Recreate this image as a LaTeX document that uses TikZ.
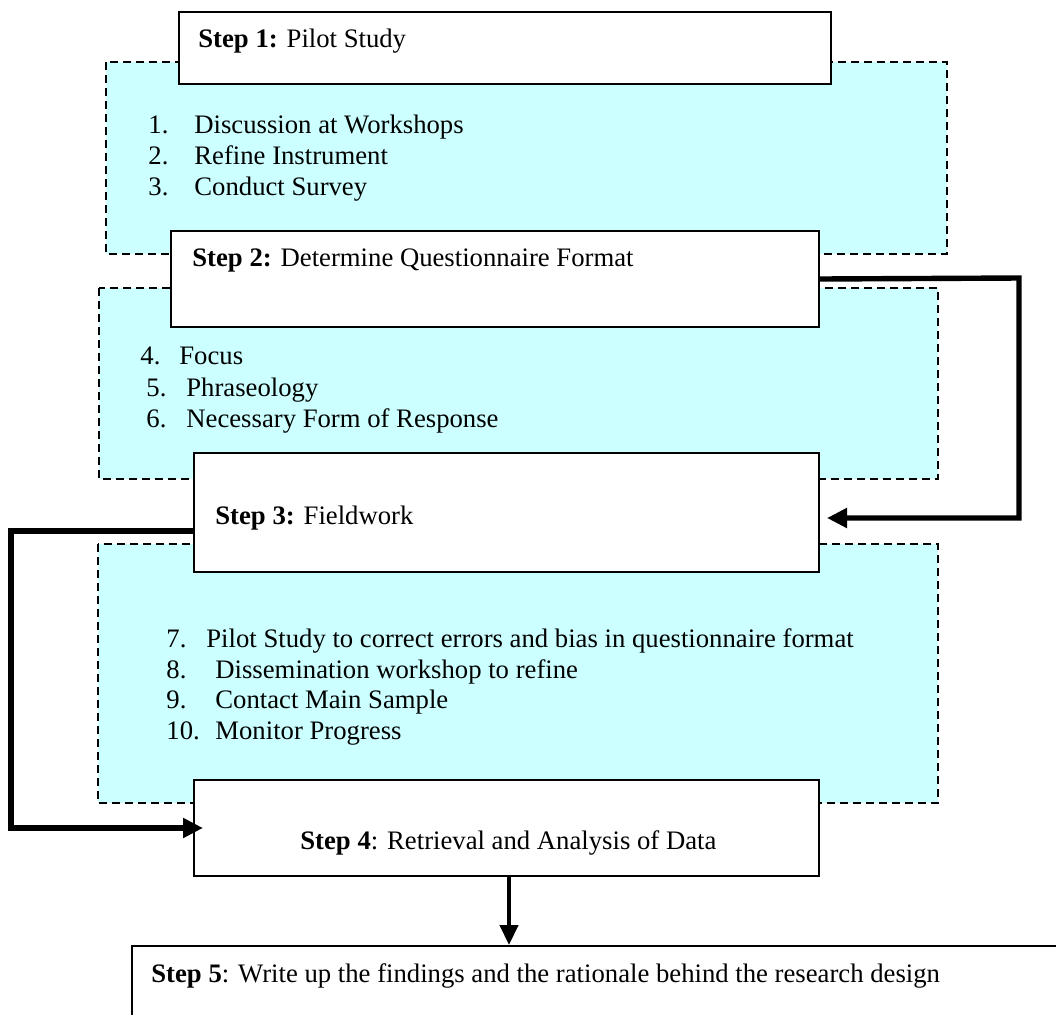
\documentclass[tikz,border=0pt]{standalone}
\usepackage{fontspec}
\setmainfont{Liberation Serif}
\usetikzlibrary{arrows.meta}
\definecolor{paleCyan}{HTML}{CCFFFF}
\begin{document}
\begin{tikzpicture}[x=0.5pt,y=-0.5pt,
  stepbox/.style={draw=black,line width=1pt,fill=white},
  dashbox/.style={draw=black,dashed,line width=0.8pt,fill=paleCyan,dash pattern=on 4pt off 2.5pt},
  txt/.style={anchor=base west,inner sep=0pt,font=\fontsize{13.35}{15.5}\selectfont},
  flow/.style={line width=2.7pt,-{Triangle[length=10pt,width=9.5pt]}}]
\useasboundingbox (0,0) rectangle (1056,1014);
\clip (0,0) rectangle (1056,1014);
% dashed areas
\path[dashbox] (106,62) rectangle (947,254);
\path[dashbox] (99,288) rectangle (938,479);
\path[dashbox] (98,544) rectangle (938,803);
% step boxes
\node[stepbox,anchor=north west,minimum width=326pt,minimum height=36pt] (s1) at (178,11) {};
\node[stepbox,anchor=north west,minimum width=324pt,minimum height=48pt] (s2) at (170,230) {};
\node[stepbox,anchor=north west,minimum width=312.5pt,minimum height=59.5pt] (s3) at (193,452) {};
\node[stepbox,anchor=north west,minimum width=312.5pt,minimum height=48pt] (s4) at (193,779) {};
\node[stepbox,anchor=north west,minimum width=480pt,minimum height=60pt] (s5) at (131,945) {};
% texts
\node[txt] (t1) at (198,47) {\textbf{Step 1:} Pilot Study};
\node[txt] (n1) at (148,133) {1.};
\node[txt] (i1) at (194,133) {Discussion at Workshops};
\node[txt] (n2) at (148,164) {2.};
\node[txt] (i2) at (194,164) {Refine Instrument};
\node[txt] (n3) at (148,195) {3.};
\node[txt] (i3) at (194,195) {Conduct Survey};
\node[txt] (t2) at (192,266) {\textbf{Step 2:} Determine Questionnaire Format};
\node[txt] (n4) at (140,364) {4.};
\node[txt] (i4) at (179,364) {Focus};
\node[txt] (n5) at (146,396) {5.};
\node[txt] (i5) at (186,396) {Phraseology};
\node[txt] (n6) at (146,427) {6.};
\node[txt] (i6) at (186,427) {Necessary Form of Response};
\node[txt] (t3) at (215,524) {\textbf{Step 3:} Fieldwork};
\node[txt] (n7) at (166,647) {7.};
\node[txt] (i7) at (206,647) {Pilot Study to correct errors and bias in questionnaire format};
\node[txt] (n8) at (166,678) {8.};
\node[txt] (i8) at (215,678) {Dissemination workshop to refine};
\node[txt] (n9) at (166,708) {9.};
\node[txt] (i9) at (215,708) {Contact Main Sample};
\node[txt] (n10) at (166,739) {10.};
\node[txt] (i10) at (215,739) {Monitor Progress};
\node[txt] (t4) at (300,849) {\textbf{Step 4}: Retrieval and Analysis of Data};
\node[txt] (t5) at (151,982) {\textbf{Step 5}: Write up the findings and the rationale behind the research design};
% connectors
\coordinate (r1) at (1019,278);
\coordinate (r2) at (1019,518);
\coordinate (r3) at (827,518);
\coordinate (l1) at (11,531);
\coordinate (l2) at (11,828);
\coordinate (l3) at (203,828);
\draw[flow] (s2.east) -- (r1) -- (r2) -- (r3);
\draw[flow] (s3.west |- l1) -- (l1) -- (l2) -- (l3);
\draw[line width=2.2pt,-{Triangle[length=10pt,width=9pt]}] (s4.south -| 509,0) -- (s5.north -| 509,0);
\end{tikzpicture}
\end{document}
